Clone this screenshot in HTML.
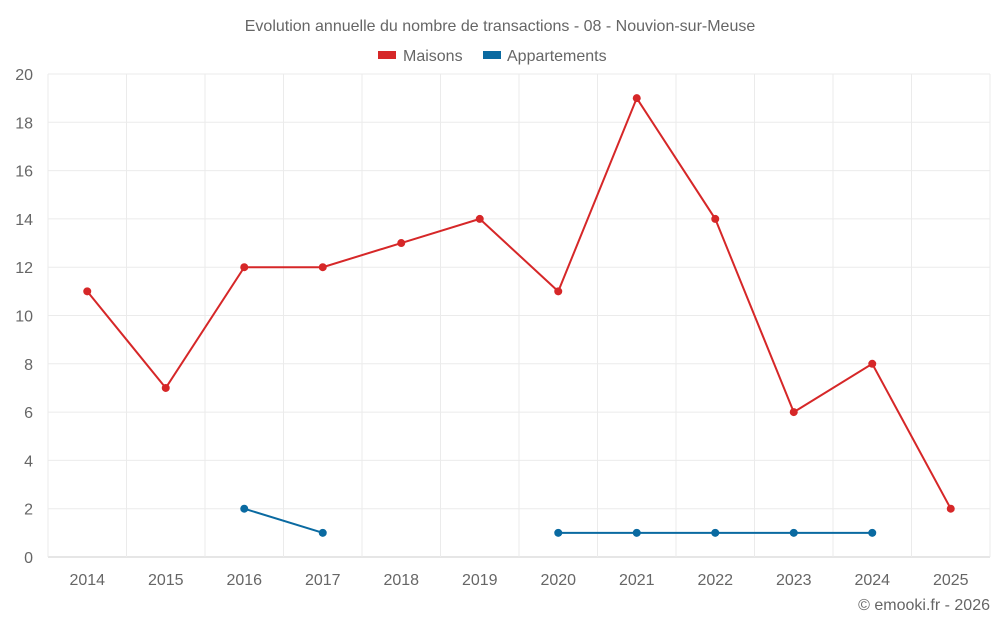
<!DOCTYPE html>
<html><head><meta charset="utf-8"><style>
body{margin:0;background:#fff;font-family:"Liberation Sans",sans-serif;}
svg text{font-family:"Liberation Sans",sans-serif;}
</style></head><body>
<svg id="c" width="1000" height="625">
<text x="500" y="31" text-anchor="middle" font-size="16" fill="#666">Evolution annuelle du nombre de transactions - 08 - Nouvion-sur-Meuse</text>
<g><rect x="378" y="51" width="18" height="8" fill="#d62728"/><text x="403" y="61" font-size="16" fill="#666">Maisons</text></g>
<g><rect x="483" y="51" width="18" height="8" fill="#0a6aa1"/><text x="507" y="61" font-size="16" fill="#666">Appartements</text></g>
<text x="990" y="610" text-anchor="end" font-size="16" fill="#666">© emooki.fr - 2026</text>
<g id="grid"></g><g id="axes"></g><g id="series"></g>
</svg>
<script>
const years=["2014","2015","2016","2017","2018","2019","2020","2021","2022","2023","2024","2025"];
const maisons=[11,7,12,12,13,14,11,19,14,6,8,2];
const appartements=[null,null,2,1,null,null,1,1,1,1,1,null];
const yTicks=[0,2,4,6,8,10,12,14,16,18,20];
const L=48,R=990,T=74,B=557,yMax=20;
const bw=(R-L)/years.length;
const x=i=>L+bw*(i+0.5);
const y=v=>B-(v/yMax)*(B-T);
const NS="http://www.w3.org/2000/svg";
function mk(tag,a,p){const e=document.createElementNS(NS,tag);for(const k in a)e.setAttribute(k,a[k]);p.appendChild(e);return e;}
const g=document.getElementById('grid'),ax=document.getElementById('axes'),s=document.getElementById('series');
yTicks.forEach(t=>{
 const l=mk('line',{x1:L,x2:R,y1:y(t),y2:y(t),stroke:t===0?'#ccc':'#ebebeb'},g);
 
 
 const tx=mk('text',{x:33,y:y(t)+6,'text-anchor':'end','font-size':16,fill:'#666'},ax);tx.textContent=t;
 
 
});
for(let i=0;i<=years.length;i++){
 const l=mk('line',{x1:L+bw*i,x2:L+bw*i,y1:T,y2:B,stroke:'#ebebeb'},g);
 
 
}
years.forEach((yr,i)=>{
 const tx=mk('text',{x:x(i),y:585,'text-anchor':'middle','font-size':16,fill:'#666'},ax);tx.textContent=yr;
 
 
});
function draw(data,color,name){
 let segs=[],cur=[];
 data.forEach((v,i)=>{if(v===null){if(cur.length)segs.push(cur);cur=[];}else cur.push([x(i),y(v)]);});
 if(cur.length)segs.push(cur);
 segs.forEach(sg=>{
  const p=mk('polyline',{points:sg.map(q=>q.join(',')).join(' '),fill:'none',stroke:color,'stroke-width':2},s);
  
  
 });
 data.forEach((v,i)=>{if(v===null)return;
  const c=mk('circle',{cx:x(i),cy:y(v),r:4,fill:color},s);
  
  
 });
}
draw(maisons,'#d62728','maisons');
draw(appartements,'#0a6aa1','appartements');
</script>
</body></html>
